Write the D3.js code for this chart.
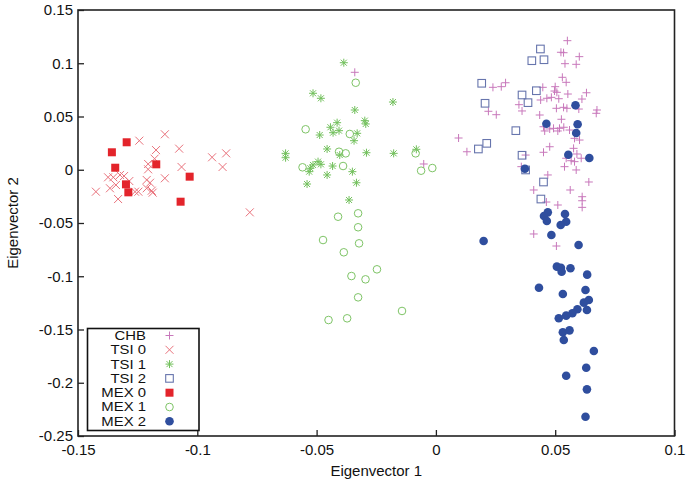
<!DOCTYPE html>
<html>
<head>
<meta charset="utf-8">
<script src="https://cdn.jsdelivr.net/npm/d3@7"></script>
<style>
  html, body { margin: 0; padding: 0; background: #fff; }
  svg { display: block; }
  text { font-family: "Liberation Sans", Arial, sans-serif; fill: #111; }
</style>
</head>
<body>
<svg id="chart" width="691" height="486"></svg>
<script>
// ---- Data (Eigenvector 1, Eigenvector 2) ----
const seriesNames = ["CHB", "TSI 0", "TSI 1", "TSI 2", "MEX 0", "MEX 1", "MEX 2"];

const chb = [
  [-0.0340,0.0915],[-0.0051,0.0054],[0.0095,0.0298],[0.0130,0.0169],[0.0239,0.0774],[0.0274,0.0780],
  [0.0292,0.0817],[0.0220,0.0549],[0.0253,0.0517],[0.0348,0.0611],[0.0361,0.0552],[0.0358,0.0029],
  [0.0376,0.0138],[0.0551,0.1212],[0.0524,0.1103],[0.0535,0.1099],[0.0601,0.1062],[0.0541,0.0996],
  [0.0588,0.0990],[0.0530,0.0868],[0.0546,0.0821],[0.0448,0.0774],[0.0500,0.0780],[0.0497,0.0739],
  [0.0507,0.0727],[0.0553,0.0711],[0.0631,0.0723],[0.0439,0.0655],[0.0465,0.0671],[0.0484,0.0680],
  [0.0515,0.0667],[0.0612,0.0664],[0.0505,0.0577],[0.0535,0.0586],[0.0549,0.0577],[0.0599,0.0570],
  [0.0675,0.0561],[0.0672,0.0530],[0.0435,0.0514],[0.0526,0.0474],[0.0451,0.0404],[0.0477,0.0383],
  [0.0493,0.0389],[0.0518,0.0389],[0.0536,0.0399],[0.0560,0.0373],[0.0456,0.0364],[0.0511,0.0364],
  [0.0477,0.0216],[0.0451,0.0164],[0.0577,0.0201],[0.0591,0.0148],[0.0581,0.0295],[0.0602,0.0279],
  [0.0546,0.0108],[0.0567,0.0085],[0.0581,0.0076],[0.0609,0.0108],[0.0539,0.0029],[0.0588,-0.0002],
  [0.0469,-0.0049],[0.0641,-0.0115],[0.0410,-0.0190],[0.0563,-0.0190],[0.0613,-0.0253],[0.0613,-0.0291],
  [0.0613,-0.0353],[0.0463,-0.0303],[0.0511,-0.0331],[0.0410,-0.0603],[0.0505,-0.0716]
];

const tsi0 = [
  [-0.1136,0.0333],[-0.1243,0.0273],[-0.1076,0.0198],[-0.1173,0.0185],[-0.0938,0.0117],[-0.0879,0.0154],
  [-0.0894,0.0026],[-0.1066,0.0026],[-0.1179,0.0104],[-0.1206,0.0054],[-0.1206,0.0004],[-0.1374,-0.0071],
  [-0.1352,-0.0071],[-0.1324,-0.0049],[-0.1307,-0.0059],[-0.1285,-0.0106],[-0.1212,-0.0096],[-0.1198,-0.0122],
  [-0.1136,-0.0080],[-0.1366,-0.0174],[-0.1341,-0.0143],[-0.1425,-0.0206],[-0.1332,-0.0275],[-0.1261,-0.0206],
  [-0.1247,-0.0206],[-0.1212,-0.0174],[-0.1191,-0.0197],[-0.1187,-0.0215],[-0.0780,-0.0400]
];

const tsi1 = [
  [-0.0386,0.1005],[-0.0515,0.0718],[-0.0482,0.0671],[-0.0180,0.0636],[-0.0340,0.0561],[-0.0298,0.0461],
  [-0.0294,0.0430],[-0.0414,0.0442],[-0.0442,0.0399],[-0.0431,0.0348],[-0.0406,0.0367],[-0.0487,0.0326],
  [-0.0330,0.0342],[-0.0343,0.0273],[-0.0456,0.0195],[-0.0403,0.0138],[-0.0291,0.0160],[-0.0177,0.0154],
  [-0.0082,0.0192],[-0.0630,0.0154],[-0.0630,0.0113],[-0.0494,0.0076],[-0.0482,0.0051],[-0.0515,0.0045],
  [-0.0526,0.0014],[-0.0531,-0.0018],[-0.0433,0.0035],[-0.0456,-0.0049],[-0.0350,-0.0018],[-0.0333,-0.0122],
  [-0.0540,-0.0134],[-0.0364,-0.0284]
];

const tsi2 = [
  [0.0438,0.1134],[0.0402,0.1024],[0.0453,0.1033],[0.0192,0.0812],[0.0361,0.0702],[0.0421,0.0742],
  [0.0206,0.0624],[0.0386,0.0630],[0.0335,0.0367],[0.0213,0.0248],[0.0178,0.0195],[0.0361,0.0136],
  [0.0376,-0.0002],[0.0451,-0.0115],[0.0440,-0.0275]
];

const mex0 = [
  [-0.1296,0.0258],[-0.1358,0.0164],[-0.1344,0.0019],[-0.1172,0.0051],[-0.1032,-0.0065],
  [-0.1299,-0.0137],[-0.1289,-0.0212],[-0.1070,-0.0300]
];

const mex1 = [
  [-0.0336,0.0817],[-0.0546,0.0380],[-0.0361,0.0336],[-0.0406,0.0169],[-0.0378,0.0154],[-0.0559,0.0023],
  [-0.0389,0.0035],[-0.0085,0.0154],[-0.0062,-0.0009],[-0.0015,0.0016],[-0.0410,-0.0441],[-0.0326,-0.0409],
  [-0.0326,-0.0540],[-0.0473,-0.0660],[-0.0322,-0.0691],[-0.0386,-0.0775],[-0.0247,-0.0935],[-0.0354,-0.0998],
  [-0.0295,-0.1029],[-0.0326,-0.1198],[-0.0142,-0.1326],[-0.0450,-0.1411],[-0.0372,-0.1395]
];

const mex2 = [
  [0.0585,0.0605],[0.0463,0.0432],[0.0594,0.0427],[0.0588,0.0345],[0.0555,0.0141],[0.0643,0.0110],
  [0.0373,0.0010],[0.0469,-0.0400],[0.0453,-0.0434],[0.0465,-0.0481],[0.0541,-0.0415],[0.0546,-0.0488],
  [0.0523,-0.0519],[0.0200,-0.0669],[0.0484,-0.0613],[0.0598,-0.0707],[0.0507,-0.0910],[0.0524,-0.0920],
  [0.0527,-0.0957],[0.0564,-0.0925],[0.0634,-0.0985],[0.0432,-0.1108],[0.0627,-0.1129],[0.0532,-0.1167],
  [0.0620,-0.1248],[0.0641,-0.1223],[0.0633,-0.1317],[0.0593,-0.1310],[0.0572,-0.1348],[0.0546,-0.1370],
  [0.0515,-0.1395],[0.0532,-0.1526],[0.0560,-0.1508],[0.0536,-0.1599],[0.0662,-0.1702],[0.0630,-0.1859],
  [0.0546,-0.1934],[0.0633,-0.2062],[0.0627,-0.2319]
];

const xTicks = [-0.15, -0.1, -0.05, 0, 0.05, 0.1];
const yTicks = [0.15, 0.1, 0.05, 0, -0.05, -0.1, -0.15, -0.2, -0.25];
const xDomain = [-0.15, 0.1];
const yDomain = [-0.25, 0.15];

// ---- Layout ----
const svg = d3.select("#chart");
const M = { left: 78, right: 674.5, top: 10, bottom: 436 };

const x = d3.scaleLinear().domain(xDomain).range([M.left, M.right]);
const y = d3.scaleLinear().domain(yDomain).range([M.bottom, M.top]);

const fmt = d => (d === 0 ? "0" : String(d));

// axes (ticks pointing inward)
const xAxis = d3.axisBottom(x).tickValues(xTicks).tickFormat(fmt).tickSizeInner(-6).tickSizeOuter(0).tickPadding(8);
const yAxis = d3.axisLeft(y).tickValues(yTicks).tickFormat(fmt).tickSizeInner(-6).tickSizeOuter(0).tickPadding(5);

const gx = svg.append("g").attr("transform", `translate(0,${M.bottom})`).call(xAxis);
const gy = svg.append("g").attr("transform", `translate(${M.left},0)`).call(yAxis);
[gx, gy].forEach(g => {
  g.select(".domain").remove();
  g.selectAll(".tick line").attr("stroke", "#222").attr("stroke-width", 1.3);
  g.selectAll(".tick text").style("font-family", "'Liberation Sans', Arial, sans-serif")
    .style("font-size", "15px").attr("fill", "#222");
});

// frame
svg.append("rect")
  .attr("x", M.left).attr("y", M.top)
  .attr("width", M.right - M.left).attr("height", M.bottom - M.top)
  .attr("fill", "none").attr("stroke", "#222").attr("stroke-width", 1.6);

// axis titles
svg.append("text").attr("x", (M.left + M.right) / 2).attr("y", 476)
  .attr("text-anchor", "middle").style("font-size", "15px").text("Eigenvector 1");
svg.append("text").attr("transform", `translate(18,${(M.top + M.bottom) / 2}) rotate(-90)`)
  .attr("text-anchor", "middle").style("font-size", "15px").text("Eigenvector 2");

// ---- marker definitions ----
const markers = {
  "CHB":   { data: chb,  color: "#c878bb", draw: g => g.append("path").attr("d", "M-4,0H4M0,-4V4").attr("fill", "none").attr("stroke-width", 1) },
  "TSI 0": { data: tsi0, color: "#e9727c", draw: g => g.append("path").attr("d", "M-4,-4L4,4M-4,4L4,-4").attr("fill", "none").attr("stroke-width", 1) },
  "TSI 1": { data: tsi1, color: "#72c05c", draw: g => g.append("path").attr("d", "M-4,0H4M0,-4V4M-3,-3L3,3M-3,3L3,-3").attr("fill", "none").attr("stroke-width", 1) },
  "TSI 2": { data: tsi2, color: "#6775ad", draw: g => { g.append("rect").attr("x", -3.8).attr("y", -3.8).attr("width", 7.6).attr("height", 7.6).attr("fill", "none").attr("stroke-width", 1.1); } },
  "MEX 0": { data: mex0, color: "#e3242b", draw: g => g.append("rect").attr("x", -4).attr("y", -4).attr("width", 8).attr("height", 8).attr("stroke", "none") },
  "MEX 1": { data: mex1, color: "#7ec466", draw: g => g.append("circle").attr("r", 3.8).attr("fill", "none").attr("stroke-width", 1) },
  "MEX 2": { data: mex2, color: "#2f4e9e", draw: g => g.append("circle").attr("r", 4.3).attr("stroke", "none") }
};

function styleMarker(sel, color) {
  sel.selectAll("path, circle, rect").each(function () {
    const el = d3.select(this);
    if (el.attr("fill") === "none") el.attr("stroke", color);
    else el.attr("fill", color);
  });
}

// plot points
const plot = svg.append("g");
seriesNames.forEach(name => {
  const m = markers[name];
  const gs = plot.append("g").attr("class", "series");
  gs.selectAll("g.pt").data(m.data).join("g").attr("class", "pt")
    .attr("transform", d => `translate(${x(d[0])},${y(d[1])})`)
    .each(function () { const g = d3.select(this); m.draw(g); styleMarker(g, m.color); });
});

// ---- legend ----
const L = { x: 87.5, y: 328.5, w: 111.5, h: 102 };
const lg = svg.append("g");
lg.append("rect").attr("x", L.x).attr("y", L.y).attr("width", L.w).attr("height", L.h)
  .attr("fill", "#fff").attr("stroke", "#111").attr("stroke-width", 1.6);
seriesNames.forEach((name, i) => {
  const cy = L.y + 7 + i * 14.3;
  lg.append("g").attr("transform", `translate(146,${cy}) scale(1.2,1)`)
    .append("text").attr("x", 0).attr("y", 0).attr("dy", "0.36em")
    .attr("text-anchor", "end").style("font-size", "12.4px").text(name);
  const g = lg.append("g").attr("transform", `translate(169.5,${cy})`);
  markers[name].draw(g);
  styleMarker(g, markers[name].color);
});
</script>
</body>
</html>
